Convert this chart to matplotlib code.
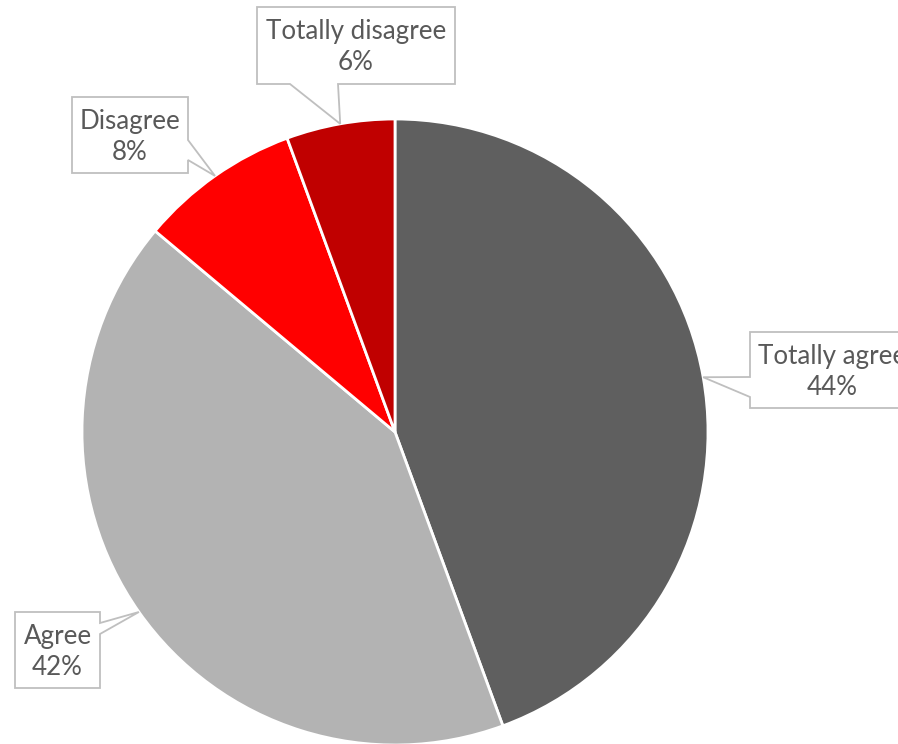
import matplotlib
matplotlib.use("Agg")
import matplotlib.pyplot as plt
from matplotlib.patches import Polygon
import numpy as np

categories = ["Totally agree", "Agree", "Disagree", "Totally disagree"]
shares = [44.4, 41.7, 8.3, 5.6]
colors = ["#5f5f5f", "#b3b3b3", "#ff0000", "#c00000"]

W, H = 898, 744
fig = plt.figure(figsize=(W / 100, H / 100), dpi=100)
ax = fig.add_axes([0, 0, 1, 1])

cx, cy, R = 395, H - 432, 313
wedges, _ = ax.pie(shares, colors=colors, startangle=90, counterclock=False,
                   center=(cx, cy), radius=R, frame=True,
                   wedgeprops=dict(edgecolor="white", linewidth=2.0))
ax.set_xlim(0, W)
ax.set_ylim(0, H)
ax.set_aspect("equal")
ax.axis("off")

# callout boxes (pixel coords, y down): box x0,y0,x1,y1, side, pointer base a,b
boxes = {
    "Totally agree": ((750, 332, 914, 408), "left", (397, 377)),
    "Agree": ((15, 612, 100, 688), "right", (623, 634)),
    "Disagree": ((72, 97, 188, 173), "right", (140, 160)),
    "Totally disagree": ((257, 7, 455, 84), "bottom", (338, 290)),
}

def P(x, y):
    return (x, H - y)

for w, cat, val in zip(wedges, categories, shares):
    mid = np.deg2rad((w.theta1 + w.theta2) / 2)
    tip = (cx + R * np.cos(mid), cy + R * np.sin(mid))
    (x0, y0, x1, y1), side, (a, b) = boxes[cat]
    if side == "left":
        verts = [P(x0, y0), P(x1, y0), P(x1, y1), P(x0, y1), P(x0, a), tip, P(x0, b)]
    elif side == "right":
        verts = [P(x0, y0), P(x1, y0), P(x1, a), tip, P(x1, b), P(x1, y1), P(x0, y1)]
    else:
        verts = [P(x0, y0), P(x1, y0), P(x1, y1), P(a, y1), tip, P(b, y1), P(x0, y1)]
    ax.add_patch(Polygon(verts, closed=True, facecolor="white", edgecolor="#bfbfbf",
                         linewidth=1.3, zorder=5))
    ax.text((x0 + x1) / 2, H - (y0 + y1) / 2 - 2, f"{cat}\n{round(val):.0f}%",
            ha="center", va="center", fontsize=18.7, family="Lato", color="#595959",
            linespacing=1.3, zorder=6)

fig.savefig("out.png", dpi=100)
